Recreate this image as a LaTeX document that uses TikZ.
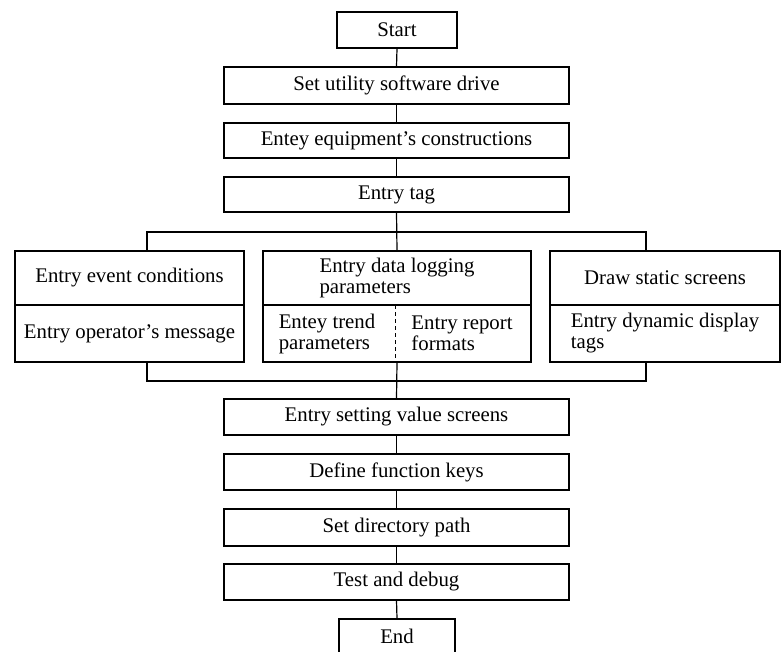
\documentclass[tikz,border=0pt]{standalone}
\usepackage{fontspec}
\setmainfont{Liberation Serif}
\begin{document}
\begin{tikzpicture}[x=1pt,y=-1pt,
  txt/.style={font=\fontsize{20.8}{21}\selectfont, inner sep=0pt},
  box/.style={txt, draw, line width=1.2pt, minimum width=345pt, minimum height=36pt},
  sbox/.style={txt, draw, line width=1.2pt, minimum width=229pt, minimum height=54pt},
  conn/.style={line width=1.2pt}]
\useasboundingbox (0,0) rectangle (781,652);
% top chain
\node[box, minimum width=120pt] (start) at (397,30) {Start};
\node[box, minimum height=37pt] (s1) at (396.5,85.5) {Set utility software drive};
\node[box, minimum height=35pt] (s2) at (396.5,140.5) {Entey equipment's constructions};
\node[box, minimum height=35pt] (s3) at (396.5,194.5) {Entry tag};
% three groups
\node[sbox] (L1) at (129.5,278) {Entry event conditions};
\node[sbox, minimum height=57pt] (L2) at (129.5,333.5) {Entry operator's message};
\node[sbox, minimum width=268pt, align=left] (M1) at (397,278) {Entry data logging\\parameters};
\node[sbox, minimum width=268pt, minimum height=57pt] (M2) at (397,333.5) {};
\node[txt, align=left] (M2a) at (327,333.5) {Entey trend\\parameters};
\node[txt, align=left] (M2b) at (462,333.5) {Entry report\\formats};
\node[sbox, minimum width=230pt] (R1) at (665,278) {Draw static screens};
\node[sbox, minimum width=230pt, minimum height=57pt, align=left] (R2) at (665,333.5) {Entry dynamic display\\tags};
\draw[conn, dashed, dash pattern=on 4pt off 3pt, line width=0.8pt] (395,305) -- (395,362);
% lower chain
\node[box] (e1) at (396.5,417) {Entry setting value screens};
\node[box] (e2) at (396.5,472) {Define function keys};
\node[box, minimum height=37pt] (e3) at (396.5,527.5) {Set directory path};
\node[box] (e4) at (396.5,582) {Test and debug};
\node[box, minimum width=116pt, minimum height=42pt] (end) at (397,640) {};
\node[txt] (endt) at (397,636) {End};
% connectors
\coordinate (tl) at (147,232);
\coordinate (tr) at (646,232);
\coordinate (bl) at (147,381);
\coordinate (br) at (646,381);
\draw[conn] (start.south) -- (s1.north);
\draw[conn] (s1.south) -- (s2.north);
\draw[conn] (s2.south) -- (s3.north);
\draw[conn] (s3.south) -- (M1.north);
\draw[conn] (L1.north -| tl) -- (tl) -- (tr) -- (R1.north -| tr);
\draw[conn] (L2.south -| bl) -- (bl) -- (br) -- (R2.south -| br);
\draw[conn] (M2.south -| M1.north) -- (e1.north);
\draw[conn] (e1.south) -- (e2.north);
\draw[conn] (e2.south) -- (e3.north);
\draw[conn] (e3.south) -- (e4.north);
\draw[conn] (e4.south) -- (end.north);
\end{tikzpicture}
\end{document}
